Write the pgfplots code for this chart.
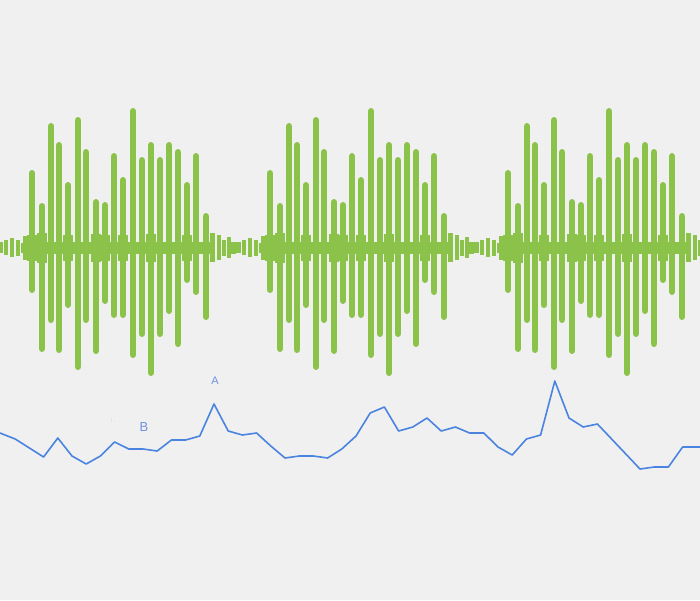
\documentclass[border=0pt]{standalone}
\usepackage{pgfplots}
\pgfplotsset{compat=1.18}
\usepackage{pgfplotstable}
\usepackage{fontspec}
\setmainfont{Liberation Sans}
\definecolor{bg}{HTML}{F0F0F0}
\definecolor{barG}{HTML}{8BC34A}
\definecolor{lineB}{HTML}{4A84E0}
\definecolor{lblB}{HTML}{7090E0}

% tall floating bars of one period (x, top, bottom in picture units)
\pgfplotstableread{
x top bot
32 170 293
42 203 352
51 123 323
59 142 353
68 182 308
78 117 370
86 149 323
96 199 354
105 202 304
114 153 318
123 177 318
133 108 358
142 157 337
151 142 376
160 157 337
169 142 314
178 149 347
187 182 283
196 153 295
206 213 320
}\tall

% middle band bars (x, half height)
\pgfplotstableread{
x h
28 12
32 13
42 15
51 6
59 6
68 13
78 6
86 6
96 14
105 13
114 6
123 13
133 6
142 6
151 14
160 6
169 6
178 6
187 13
196 6
206 6
}\midb

% small bars in the gap between bursts (x, half height)
\pgfplotstableread{
x h
212.5 14.5
219 12.5
224 8
229 10.5
233.5 6
238.5 5.5
244 7.5
250 9.5
256 8
261 5
}\smallb

\pgfplotstableread{
x y
0 433
15.2 439
29.4 448
43.6 457
57.8 438
72 456
86.2 464
100.4 456
114.6 442
128.8 449
143 449
157.2 451
171.4 440
185.6 440
199.8 436
214 404
228.2 431
242.4 435
256.6 433
270.8 446
285 458
299.2 456
313.4 456
327.6 458
341.8 449
356 436
370.2 413
384.4 407
398.6 431
412.8 427
427 418
441.2 431
455.4 427
469.6 433
483.8 433
498 447
512.2 455
526.4 439
540.6 435
554.8 381
569 418
583.2 427
597.4 424
611.6 439
625.8 454
640 469
654.2 467
668.4 467
682.6 447
700 447
}\wave

\begin{document}
\begin{tikzpicture}
\begin{axis}[
  width=700pt, height=600pt, scale only axis,
  xmin=0, xmax=700, ymin=0, ymax=600, y dir=reverse,
  axis lines=none, clip=true,
]
\path[fill=bg] (rel axis cs:0,0) rectangle (rel axis cs:1,1);
\pgfplotsinvokeforeach{-238,0,238,476}{
\addplot[draw=none, mark=none, forget plot,
  error bars/.cd, y dir=plus, y explicit, error mark=none,
  error bar style={draw=barG, line width=6.4pt, line cap=round}]
  table[x expr=\thisrow{x}+#1, y expr=\thisrow{top}+3.2,
        y error plus expr=\thisrow{bot}-\thisrow{top}-6.4] {\tall};
\addplot[draw=none, mark=none, forget plot,
  error bars/.cd, y dir=both, y explicit, error mark=none,
  error bar style={draw=barG, line width=9.2pt, line cap=butt}]
  table[x expr=\thisrow{x}+#1, y expr=247.5,
        y error expr=\thisrow{h}] {\midb};
\addplot[draw=none, mark=none, forget plot,
  error bars/.cd, y dir=both, y explicit, error mark=none,
  error bar style={draw=barG, line width=4.4pt, line cap=butt}]
  table[x expr=\thisrow{x}+#1, y expr=247.5,
        y error expr=\thisrow{h}] {\smallb};
}
\addplot[lineB, line width=1.6pt, mark=none, line join=round] table {\wave};
\node[text=lblB, font=\fontsize{11}{11}\selectfont] at (axis cs:215,381) {A};
\node[text=lblB, font=\fontsize{13}{13}\selectfont] at (axis cs:144,427) {B};
\node[text=gray!60, font=\fontsize{6}{6}\selectfont] at (axis cs:113,421) {:\,.};
\end{axis}
\end{tikzpicture}
\end{document}
